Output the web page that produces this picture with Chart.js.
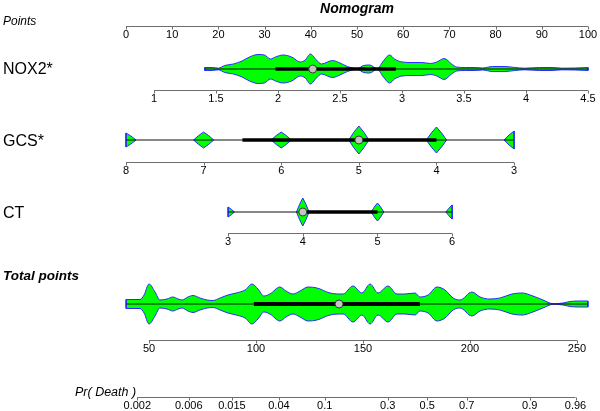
<!DOCTYPE html>
<html><head><meta charset="utf-8">
<script src="https://cdn.jsdelivr.net/npm/chart.js@4/dist/chart.umd.min.js"></script>
<style>html,body{margin:0;padding:0;background:#fff}canvas{display:block}</style>
</head><body>
<canvas id="c" width="600" height="411"></canvas>
<script>
// ---------------- data ----------------
const pointsTicks = [0,10,20,30,40,50,60,70,80,90,100];
const nox2Ticks   = [1,1.5,2,2.5,3,3.5,4,4.5];
const gcsTicks    = [8,7,6,5,4,3];
const ctTicks     = [3,4,5,6];
const totalTicks  = [50,100,150,200,250];
const prTicks     = [0.002,0.006,0.015,0.04,0.1,0.3,0.5,0.7,0.9,0.96];

// value -> points anchors
const nox2Anchors  = [[1, 6.06],[4.5, 100]];
const gcsAnchors   = [[8, 0],[3, 84]];
const ctAnchors    = [[3, 22.1],[6, 70.6]];
const totalAnchors = [[0, -18.18],[250, 97.62]];   // total points -> position on Points scale
const prModel      = [180, 0.04586];                // total at Pr=0.5, logit slope per total point

// NOX2 distribution (value, relative density)
const nox2Values  = [1.41,1.47,1.52,1.57,1.64,1.71,1.77,1.84,1.89,1.94,1.98,2.04,2.11,2.18,2.22,2.26,2.31,2.35,2.44,2.50,2.56,2.64,2.69,2.74,2.80,2.85,2.90,2.94,3.00,3.08,3.16,3.23,3.28,3.34,3.40,3.44,3.51,3.59,3.65,3.73,3.83,3.91,3.99,4.11,4.21,4.29,4.40,4.50];
const nox2Density = [1.5,1.5,0.8,3.5,5,8,12,14.5,14,10,12,14,12,7,9,15,9,5,8.5,6,2.5,0.3,3.5,4,0.3,8,14,10,7,6.5,6.5,5.5,7,10.5,5,2,1.5,1.5,1,2.5,2.5,1.5,0.8,1.5,1.5,0.8,1,1.5];
const nox2Summary = [1.41, 1.98, 2.28, 2.95, 4.5];   // min, q1, median, q3, max

// GCS distribution
const gcsLevels  = [8,7,6,5,4,3];
const gcsDensity = [7,8,8,14,13,9];
const gcsSummary = [8, 6.5, 5, 4, 3];

// CT distribution
const ctLevels  = [3,4,5,6];
const ctDensity = [5,14,9,7];
const ctSummary = [3, 4, 4, 5, 6];

// Total points distribution
const totalValues  = [39.3,45.8,47.7,50.0,52.8,55.1,58.4,61.2,63.6,65.4,68.2,70.6,73.8,77.1,79.9,83.2,86.9,90.7,94.9,98.1,100.9,103.7,106.5,111.2,114.0,117.3,120.6,124.3,128.5,134.6,140.7,145.3,149.5,153.3,157.0,161.7,165.9,169.6,174.3,176.6,180.4,184.6,188.3,192.1,195.3,200.9,204.7,209.3,214.0,219.6,224.3,229.4,234.1,238.8,243.5,246.7,251.4,255.1];
const totalDensity = [4.5,4.5,9,20,12,4,5,7,5,4,7,8.5,6,4,3.5,6,9,11,14,20,15,8,10,17,13,10,13,17,16,11,10,18,11,20,11,18,10,10,11,7,9,17,14,6,4,12,7,5,6,10,11,8,4,0.3,1,2.5,3,3];
const totalSummary = [39.3, 99, 138.8, 176.6, 255.1];

// ---------------- layout / style ----------------
const ROWS = {
  points:{axis:26},
  nox2:{c:69, axis:90, H:15},
  gcs:{c:140, axis:162, H:14},
  ct:{c:212, axis:233, H:14},
  total:{c:304, axis:340, H:20},
  pr:{axis:397}
};
const GREEN = '#00ff00', BLUE = '#2b2bff';
const FONT = '"Liberation Sans", Arial, sans-serif';

function linMap(a){ const [[v0,p0],[v1,p1]] = a; return v => p0 + (v - v0)*(p1 - p0)/(v1 - v0); }
const nox2ToPts  = linMap(nox2Anchors);
const gcsToPts   = linMap(gcsAnchors);
const ctToPts    = linMap(ctAnchors);
const totalToPts = linMap(totalAnchors);
const prToPts    = p => totalToPts(prModel[0] + Math.log(p/(1-p))/prModel[1]);

function knotsContinuous(vals, dens, toPts, row){
  const m = Math.max(...dens);
  return vals.map((v,i)=>({x:toPts(v), h:dens[i]/m*row.H})).sort((a,b)=>a.x-b.x);
}
function knotsDiscrete(levels, dens, bw, toPts, row){
  const m = Math.max(...dens), lo = Math.min(...levels), hi = Math.max(...levels);
  const k = [];
  levels.forEach((v,i)=>{
    const h = dens[i]/m*row.H;
    [[-1,0],[-0.5,0.55],[0,1],[0.5,0.55],[1,0]].forEach(([o,f])=>{
      const u = v + o*bw;
      if (u < lo-1e-9 || u > hi+1e-9) return;
      k.push({x:toPts(u), h:h*f});
    });
  });
  return k.sort((a,b)=>a.x-b.x);
}

const datasets = [];
function addRow(knots, smooth, summary, toPts, row, thick){
  const flatSeg = {borderColor: c => (Math.abs(c.p0.parsed.y-row.c) < 0.01 && Math.abs(c.p1.parsed.y-row.c) < 0.01) ? 'rgba(0,0,0,0)' : undefined};
  const base = {pointRadius:0, borderColor:BLUE, borderWidth:1, clip:false};
  const interp = smooth ? {cubicInterpolationMode:'monotone'} : {tension:0};
  datasets.push(Object.assign({}, base, interp, {data:knots.map(k=>({x:k.x,y:row.c-k.h})), fill:'+1', backgroundColor:GREEN, segment:flatSeg, order:4}));
  datasets.push(Object.assign({}, base, interp, {data:knots.map(k=>({x:k.x,y:row.c+k.h})), fill:false, segment:flatSeg, order:4}));
  [knots[0], knots[knots.length-1]].forEach(k=>{
    if (k.h > 0.2) datasets.push(Object.assign({}, base, {data:[{x:k.x,y:row.c-k.h},{x:k.x,y:row.c+k.h}], fill:false, tension:0, order:4}));
  });
  const [mn,q1,md,q3,mx] = summary;
  datasets.push({data:[{x:toPts(mn),y:row.c},{x:toPts(mx),y:row.c}], borderColor:'#111', borderWidth:1, pointRadius:0, fill:false, tension:0, order:2, clip:false});
  datasets.push({data:[{x:toPts(q1),y:row.c},{x:toPts(q3),y:row.c}], borderColor:'#000', borderWidth:thick, borderCapStyle:'butt', pointRadius:0, fill:false, tension:0, order:1, clip:false});
  datasets.push({data:[{x:toPts(md),y:row.c}], showLine:false, pointRadius:4, pointBackgroundColor:'#c4c4c4', pointBorderColor:'#3a3a3a', pointBorderWidth:1, order:0, clip:false});
}
addRow(knotsContinuous(nox2Values, nox2Density, nox2ToPts, ROWS.nox2), true, nox2Summary, nox2ToPts, ROWS.nox2, 3.5);
addRow(knotsDiscrete(gcsLevels, gcsDensity, 0.13, gcsToPts, ROWS.gcs), false, gcsSummary, gcsToPts, ROWS.gcs, 3.5);
addRow(knotsDiscrete(ctLevels, ctDensity, 0.085, ctToPts, ROWS.ct), false, ctSummary, ctToPts, ROWS.ct, 3.5);
addRow(knotsContinuous(totalValues, totalDensity, totalToPts, ROWS.total), true, totalSummary, totalToPts, ROWS.total, 4);

const nomoPlugin = {
  id:'nomo',
  afterDraw(chart){
    const ctx = chart.ctx, xs = chart.scales.x, ys = chart.scales.y;
    const px = p => xs.getPixelForValue(p);
    function axis(ticks, toPts, yv){
      const y = Math.round(ys.getPixelForValue(yv)) + 0.5;
      const xp = ticks.map(t=>px(toPts(t)));
      ctx.save();
      ctx.strokeStyle = '#6e6e6e'; ctx.lineWidth = 1;
      ctx.beginPath();
      ctx.moveTo(Math.min(...xp), y); ctx.lineTo(Math.max(...xp), y);
      xp.forEach(x=>{ const xx = Math.round(x)+0.5; ctx.moveTo(xx, y); ctx.lineTo(xx, y+3); });
      ctx.stroke();
      ctx.fillStyle = '#000'; ctx.font = '11px ' + FONT;
      ctx.textAlign = 'center'; ctx.textBaseline = 'middle';
      ticks.forEach((t,i)=>ctx.fillText(String(t), xp[i], y+8));
      ctx.restore();
    }
    axis(pointsTicks, v=>v, ROWS.points.axis);
    axis(nox2Ticks, nox2ToPts, ROWS.nox2.axis);
    axis(gcsTicks, gcsToPts, ROWS.gcs.axis);
    axis(ctTicks, ctToPts, ROWS.ct.axis);
    axis(totalTicks, totalToPts, ROWS.total.axis);
    axis(prTicks, prToPts, ROWS.pr.axis);

    ctx.save();
    ctx.fillStyle = '#000'; ctx.textBaseline = 'alphabetic';
    ctx.font = 'bold italic 14px ' + FONT; ctx.textAlign = 'center';
    ctx.fillText('Nomogram', 357, 13);
    ctx.textAlign = 'left';
    ctx.font = 'italic 12px ' + FONT; ctx.fillText('Points', 3, 25);
    ctx.font = '16px ' + FONT;
    ctx.fillText('NOX2*', 3, 74);
    ctx.fillText('GCS*', 3, 146);
    ctx.fillText('CT', 3, 218);
    ctx.font = 'bold italic 13.5px ' + FONT; ctx.fillText('Total points', 3, 280);
    ctx.font = 'italic 12.5px ' + FONT; ctx.fillText('Pr( Death )', 75, 396);
    ctx.restore();
  }
};

new Chart(document.getElementById('c'), {
  type:'line',
  data:{datasets},
  options:{
    responsive:false, animation:false, devicePixelRatio:1,
    layout:{autoPadding:false, padding:{left:126, right:12, top:0, bottom:0}},
    scales:{
      x:{type:'linear', min:0, max:100, display:false},
      y:{type:'linear', min:0, max:411, reverse:true, display:false}
    },
    plugins:{legend:{display:false}, tooltip:{enabled:false}, filler:{drawTime:'beforeDatasetsDraw', propagate:false}},
    events:[]
  },
  plugins:[nomoPlugin]
});
</script>
</body></html>
